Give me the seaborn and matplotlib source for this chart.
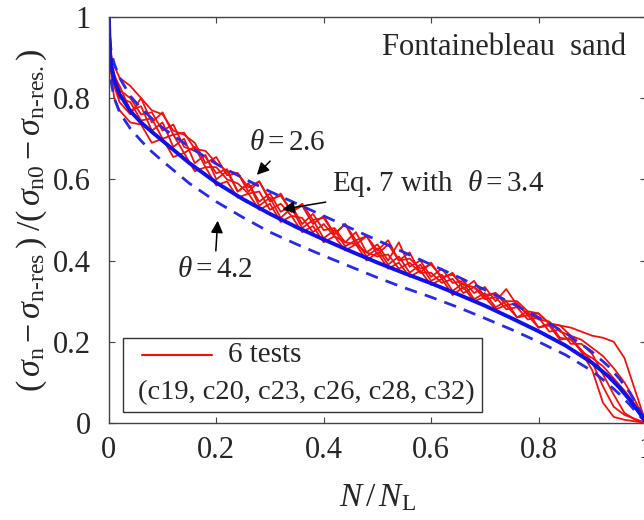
import matplotlib
matplotlib.use("Agg")
import matplotlib.pyplot as plt
import seaborn as sns
from matplotlib.patches import Rectangle
from matplotlib.lines import Line2D

# ---------------- data ----------------
model_x = [0, 0.002, 0.005, 0.01, 0.02, 0.04, 0.06, 0.08, 0.10, 0.15, 0.2, 0.25, 0.3, 0.35,
           0.4, 0.45, 0.5, 0.55, 0.6, 0.65, 0.7, 0.75, 0.8, 0.85, 0.9, 0.93, 0.95, 0.97,
           0.985, 0.995, 1.0]
model_theta34 = [1.0, 0.91, 0.875, 0.845, 0.81, 0.768, 0.74, 0.717, 0.695, 0.64, 0.592, 0.551,
                 0.515, 0.482, 0.452, 0.423, 0.395, 0.369, 0.344, 0.317, 0.289, 0.258, 0.226,
                 0.191, 0.148, 0.115, 0.088, 0.057, 0.03, 0.012, 0.0]
model_theta26 = [1.0, 0.94, 0.91, 0.885, 0.85, 0.805, 0.775, 0.75, 0.727, 0.68, 0.638, 0.603,
                 0.57, 0.54, 0.51, 0.48, 0.45, 0.42, 0.39, 0.36, 0.328, 0.295, 0.26, 0.222,
                 0.175, 0.14, 0.11, 0.075, 0.04, 0.016, 0.0]
model_theta42 = [1.0, 0.87, 0.835, 0.80, 0.765, 0.725, 0.695, 0.668, 0.645, 0.59, 0.545, 0.506,
                 0.47, 0.44, 0.412, 0.385, 0.358, 0.333, 0.31, 0.285, 0.258, 0.23, 0.2, 0.168,
                 0.128, 0.096, 0.072, 0.045, 0.022, 0.008, 0.0]

test_x = [0, 0.005, 0.01, 0.02, 0.04, 0.06, 0.08, 0.10, 0.12, 0.14, 0.16, 0.18, 0.20, 0.22,
          0.24, 0.26, 0.28, 0.30, 0.32, 0.34, 0.36, 0.38, 0.40, 0.42, 0.44, 0.46, 0.48, 0.50,
          0.52, 0.54, 0.56, 0.58, 0.60, 0.62, 0.64, 0.66, 0.68, 0.70, 0.72, 0.74, 0.76, 0.78,
          0.80, 0.82, 0.84, 0.86, 0.88, 0.90, 0.92, 0.94, 0.96, 0.98, 1.0]
test_c19 = [1.0, 0.90, 0.88, 0.85, 0.83, 0.80, 0.77, 0.76, 0.72, 0.71, 0.69, 0.64, 0.655, 0.61,
            0.615, 0.57, 0.595, 0.55, 0.56, 0.52, 0.535, 0.49, 0.51, 0.465, 0.49, 0.45, 0.46,
            0.425, 0.45, 0.40, 0.405, 0.38, 0.39, 0.36, 0.365, 0.34, 0.335, 0.315, 0.32, 0.29,
            0.295, 0.265, 0.27, 0.245, 0.24, 0.235, 0.225, 0.215, 0.21, 0.20, 0.16, 0.08, 0.0]
test_c20 = [1.0, 0.89, 0.86, 0.82, 0.80, 0.76, 0.765, 0.72, 0.735, 0.68, 0.67, 0.655, 0.615, 0.625,
            0.57, 0.59, 0.545, 0.565, 0.52, 0.535, 0.49, 0.515, 0.475, 0.48, 0.445, 0.47, 0.42,
            0.44, 0.40, 0.445, 0.385, 0.40, 0.36, 0.38, 0.345, 0.35, 0.32, 0.335, 0.30, 0.33,
            0.29, 0.27, 0.255, 0.25, 0.225, 0.215, 0.175, 0.13, 0.05, 0.015, 0.008, 0.004, 0.0]
test_c23 = [1.0, 0.88, 0.84, 0.80, 0.79, 0.745, 0.75, 0.70, 0.71, 0.665, 0.68, 0.63, 0.63, 0.60,
            0.59, 0.565, 0.57, 0.525, 0.54, 0.51, 0.505, 0.47, 0.49, 0.46, 0.445, 0.44, 0.42,
            0.41, 0.415, 0.38, 0.395, 0.37, 0.37, 0.345, 0.355, 0.32, 0.335, 0.305, 0.31, 0.28,
            0.285, 0.255, 0.26, 0.225, 0.23, 0.195, 0.195, 0.17, 0.12, 0.07, 0.025, 0.008, 0.0]
test_c26 = [1.0, 0.86, 0.83, 0.79, 0.76, 0.80, 0.74, 0.765, 0.71, 0.715, 0.675, 0.67, 0.64, 0.62,
            0.615, 0.58, 0.595, 0.545, 0.565, 0.52, 0.54, 0.50, 0.505, 0.465, 0.49, 0.44, 0.46,
            0.415, 0.44, 0.40, 0.42, 0.37, 0.395, 0.355, 0.37, 0.33, 0.35, 0.31, 0.32, 0.30,
            0.30, 0.275, 0.27, 0.245, 0.24, 0.215, 0.205, 0.185, 0.165, 0.135, 0.10, 0.055, 0.0]
test_c28 = [1.0, 0.85, 0.80, 0.77, 0.74, 0.735, 0.69, 0.70, 0.655, 0.665, 0.62, 0.63, 0.585,
            0.595, 0.555, 0.565, 0.525, 0.54, 0.495, 0.51, 0.47, 0.485, 0.445, 0.46, 0.425, 0.44,
            0.40, 0.42, 0.38, 0.395, 0.36, 0.375, 0.34, 0.355, 0.315, 0.335, 0.30, 0.31, 0.28,
            0.29, 0.26, 0.265, 0.235, 0.24, 0.205, 0.21, 0.175, 0.16, 0.14, 0.11, 0.08, 0.045, 0.0]
test_c32 = [1.0, 0.87, 0.855, 0.83, 0.77, 0.78, 0.72, 0.74, 0.68, 0.70, 0.64, 0.66, 0.60, 0.62,
            0.57, 0.59, 0.535, 0.555, 0.505, 0.53, 0.48, 0.50, 0.455, 0.475, 0.435, 0.45, 0.41,
            0.43, 0.39, 0.41, 0.37, 0.39, 0.35, 0.365, 0.325, 0.345, 0.305, 0.32, 0.285, 0.30,
            0.26, 0.275, 0.235, 0.245, 0.21, 0.205, 0.18, 0.15, 0.09, 0.04, 0.02, 0.01, 0.0]
tests = [test_c19, test_c20, test_c23, test_c26, test_c28, test_c32]

xticks = [0, 0.2, 0.4, 0.6, 0.8, 1]
xticklabels = ["0", "0.2", "0.4", "0.6", "0.8", "1"]
yticks = [0, 0.2, 0.4, 0.6, 0.8, 1]
yticklabels = ["0", "0.2", "0.4", "0.6", "0.8", "1"]

# ---------------- style ----------------
sns.set_style("ticks")
plt.rcParams["font.family"] = ["Liberation Serif", "DejaVu Serif"]
plt.rcParams["mathtext.fontset"] = "custom"
plt.rcParams["mathtext.rm"] = "Liberation Serif"
plt.rcParams["mathtext.it"] = "Liberation Serif:italic"
plt.rcParams["mathtext.bf"] = "Liberation Serif:bold"

RED = "#f01010"
BLUE = "#1010e8"
DBLUE = "#2a2ae0"
SPINE = "#444444"

fig = plt.figure(figsize=(6.44, 5.20), dpi=100)
ax = fig.add_axes([0.169, 0.1865, 0.834, 0.781])

for t in tests:
    sns.lineplot(x=test_x, y=t, ax=ax, color=RED, linewidth=1.3, estimator=None, sort=False)

sns.lineplot(x=model_x, y=model_theta26, ax=ax, color=DBLUE, linewidth=2.0,
             linestyle=(0, (4.5, 3)), estimator=None, sort=False)
sns.lineplot(x=model_x, y=model_theta42, ax=ax, color=DBLUE, linewidth=2.0,
             linestyle=(0, (4.5, 3)), estimator=None, sort=False)
sns.lineplot(x=model_x, y=model_theta34, ax=ax, color=BLUE, linewidth=2.8,
             estimator=None, sort=False)

ax.set_xlim(0, 1)
ax.set_ylim(0, 1)
ax.set_xticks(xticks)
ax.set_xticklabels(xticklabels)
ax.set_yticks(yticks)
ax.set_yticklabels(yticklabels)
ax.tick_params(direction="in", length=4, width=0.8, color=SPINE, labelsize=22,
               top=True, right=True)
ax.tick_params(axis="x", pad=9)
ax.tick_params(axis="y", pad=13)
for s in ax.spines.values():
    s.set_color(SPINE)
    s.set_linewidth(1.0)

ax.set_xlabel(r"$N\,/\,N_{\mathrm{L}}$", fontsize=24, labelpad=13)
ax.set_ylabel(r"$(\,\sigma_{\mathrm{n}} - \sigma_{\text{n-res}}\,)\;/(\,\sigma_{\mathrm{n0}} - \sigma_{\text{n-res.}}\,)$",
              fontsize=24.5, labelpad=3)

ax.text(0.735, 0.925, "Fontainebleau  sand", fontsize=22, ha="center", va="center")

arrowprops = dict(arrowstyle="-|>", color="black", lw=1.1, mutation_scale=18)
ax.annotate(r"$\theta = 2.6$", xy=(0.272, 0.606), xytext=(0.333, 0.69),
            fontsize=21, ha="center", va="center", arrowprops=arrowprops)
ax.annotate(r"Eq. 7 with  $\theta = 3.4$", xy=(0.318, 0.525), xytext=(0.415, 0.59),
            fontsize=21, ha="left", va="center", arrowprops=arrowprops)
ax.annotate(r"$\theta = 4.2$", xy=(0.203, 0.505), xytext=(0.197, 0.377),
            fontsize=21, ha="center", va="center", arrowprops=arrowprops)

# legend box
ax.add_patch(Rectangle((0.026, 0.027), 0.669, 0.182, transform=ax.transAxes,
                       facecolor="white", edgecolor="#333333", linewidth=1.0, zorder=5))
ax.add_line(Line2D([0.061, 0.192], [0.167, 0.167], transform=ax.transAxes,
                   color=RED, linewidth=1.5, zorder=6))
ax.text(0.222, 0.167, "6 tests", transform=ax.transAxes, fontsize=21,
        ha="left", va="center", zorder=6)
ax.text(0.054, 0.076, "(c19, c20, c23, c26, c28, c32)", transform=ax.transAxes,
        fontsize=20.5, ha="left", va="center", zorder=6)

fig.savefig("out.png", dpi=100)
